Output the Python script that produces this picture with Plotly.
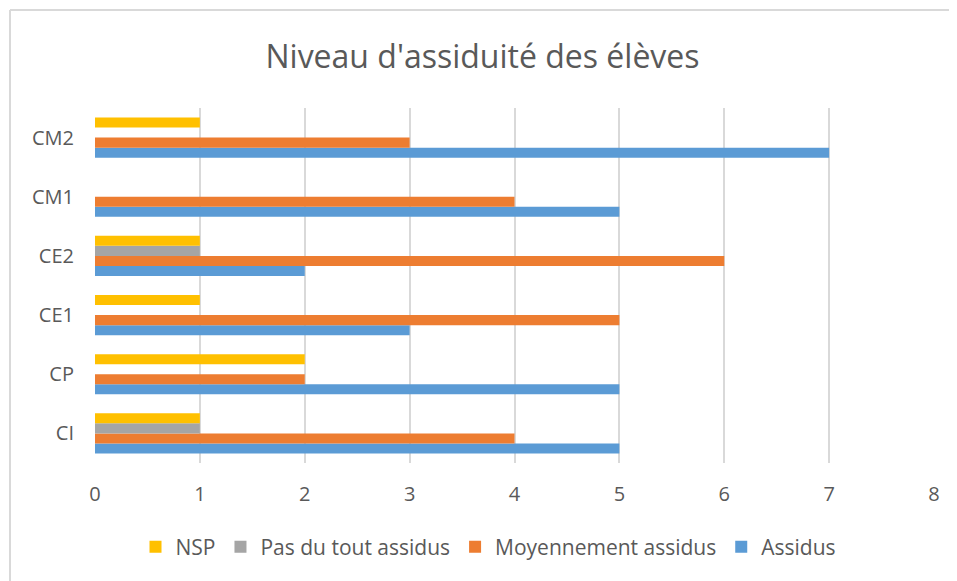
import plotly.graph_objects as go

categories = ["CI", "CP", "CE1", "CE2", "CM1", "CM2"]
assidus = [5, 5, 3, 2, 5, 7]
moyennement = [4, 2, 5, 6, 4, 3]
pas_du_tout = [1, 0, 0, 1, 0, 0]
nsp = [1, 2, 1, 1, 0, 1]
x_ticks = [0, 1, 2, 3, 4, 5, 6, 7, 8]

series = [
    ("Assidus", assidus, "#5b9bd5"),
    ("Moyennement assidus", moyennement, "#ed7d31"),
    ("Pas du tout assidus", pas_du_tout, "#a5a5a5"),
    ("NSP", nsp, "#ffc000"),
]

fig = go.Figure()
for name, vals, color in series:
    fig.add_trace(go.Bar(y=categories, x=vals, name=name, orientation="h",
                         marker=dict(color=color, line=dict(width=0))))

W, H = 949, 573
L, R, T, B = 87, 23, 100, 118
PW, PH = W - L - R, H - T - B

font_family = "Open Sans, Liberation Sans, sans-serif"
fig.update_layout(
    width=W, height=H,
    barmode="group", bargap=0.32, bargroupgap=0,
    paper_bgcolor="white", plot_bgcolor="white",
    margin=dict(l=L, r=R, t=T, b=B),
    title=dict(text="Niveau d'assiduité des élèves", x=0.5, xanchor="center",
               y=1 - 49 / H, yanchor="middle",
               font=dict(family=font_family, size=32, color="#595959")),
    font=dict(family=font_family, color="#595959", size=20),
    xaxis=dict(range=[0, 8], tickvals=x_ticks, showgrid=True, gridcolor="#d9d9d9",
               gridwidth=1.5, zeroline=False, showline=False, ticks="",
               ticklabelstandoff=17,
               tickfont=dict(size=20, color="#595959")),
    yaxis=dict(showgrid=False, zeroline=False, showline=False, ticks="",
               ticklabelstandoff=20, tickfont=dict(size=20, color="#595959")),
    legend=dict(orientation="h", traceorder="reversed", x=0.5 - 26 / PW,
                xanchor="center",
                y=-(539 - (T + PH)) / PH, yanchor="middle",
                font=dict(size=21, color="#595959"), itemwidth=30),
    showlegend=True,
)

# chart frame (left and top edges visible)
fig.add_shape(type="line", xref="paper", yref="paper",
              x0=(2 - L) / PW, x1=(2 - L) / PW,
              y0=(T + PH - 700) / PH, y1=(T + PH - 2) / PH,
              line=dict(color="#d9d9d9", width=2), layer="below")
fig.add_shape(type="line", xref="paper", yref="paper",
              x0=(2 - L) / PW, x1=(W + 10 - L) / PW,
              y0=(T + PH - 2) / PH, y1=(T + PH - 2) / PH,
              line=dict(color="#d9d9d9", width=2), layer="below")

fig.write_html("out.html")
